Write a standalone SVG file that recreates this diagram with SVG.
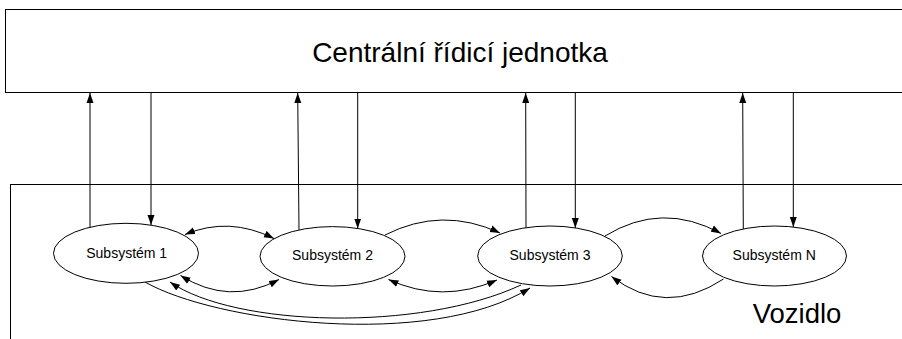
<svg xmlns="http://www.w3.org/2000/svg" width="902" height="339" viewBox="0 0 902 339">
  <style>
    .box { fill: #fff; stroke: #000; stroke-width: 1; }
    .node { fill: #fff; stroke: #000; stroke-width: 1; }
    .lbl { font-family: "Liberation Sans", Arial, sans-serif; font-size: 14px; fill: #000; text-anchor: middle; }
    .big { font-family: "Liberation Sans", Arial, sans-serif; fill: #000; }
    .edge { fill: none; stroke: #000; stroke-width: 1; }
    .one { marker-end: url(#arrow); }
    .two { marker-start: url(#arrow); marker-end: url(#arrow); }
  </style>
  <defs>
    <marker id="arrow" markerUnits="userSpaceOnUse" markerWidth="10" markerHeight="8" refX="10" refY="4" orient="auto-start-reverse" viewBox="0 0 10 8">
      <path d="M0,0.5 L10,4 L0,7.5 z" fill="#000"/>
    </marker>
  </defs>
  <rect width="902" height="339" fill="#fff"/>

  <!-- central control unit -->
  <g id="central-unit">
    <rect class="box" x="5.5" y="9.5" width="900" height="83"/>
    <text class="big" x="460" y="61.5" font-size="28" text-anchor="middle">Centrální řídicí jednotka</text>
  </g>

  <!-- vehicle frame -->
  <g id="vehicle">
    <rect class="box" x="10.5" y="184.5" width="900" height="200"/>
    <text class="big" x="797" y="323" font-size="27.5" text-anchor="middle">Vozidlo</text>
  </g>

  <!-- links -->
  <g id="connectors">
    <!-- up/down to the central unit -->
    <path class="edge one" d="M90,227 L90,93"/>
    <path class="edge one" d="M151,92.5 L151,225"/>
    <path class="edge one" d="M299,230 L297.7,93"/>
    <path class="edge one" d="M357.7,92.5 L357.7,228.5"/>
    <path class="edge one" d="M526,228 L525.7,93"/>
    <path class="edge one" d="M575.3,92.5 L575.3,228"/>
    <path class="edge one" d="M743.3,229 L742.7,93"/>
    <path class="edge one" d="M793.3,92.5 L793.3,227"/>

    <!-- between subsystems -->
    <path class="edge two" d="M185,234.5 Q229,216 274,238.5"/>
    <path class="edge two" d="M180.5,275.5 Q229,306 279,279.5"/>
    <path class="edge one" d="M385,235 Q442,206 500,233"/>
    <path class="edge two" d="M388.5,279.5 Q442,304 497,280"/>
    <path class="edge one" d="M605,236 Q662,201 721,233.5"/>
    <path class="edge one" d="M723.5,279 Q665,317.5 611.5,276.5"/>
    <path class="edge" d="M521,285 C420,332 235,327 170,282" marker-end="url(#arrow)"/>
    <path class="edge one" d="M145,282 C215,322 430,350 530,288"/>
  </g>

  <!-- subsystems -->
  <g id="subsystem-1">
    <ellipse class="node" cx="126" cy="253.3" rx="72.5" ry="30"/>
    <text class="lbl" x="126.7" y="257.5">Subsystém 1</text>
  </g>
  <g id="subsystem-2">
    <ellipse class="node" cx="332.5" cy="256.3" rx="72.5" ry="29.7"/>
    <text class="lbl" x="332.5" y="259.5">Subsystém 2</text>
  </g>
  <g id="subsystem-3">
    <ellipse class="node" cx="550" cy="256" rx="72.3" ry="30"/>
    <text class="lbl" x="550" y="260">Subsystém 3</text>
  </g>
  <g id="subsystem-n">
    <ellipse class="node" cx="774.5" cy="256" rx="72" ry="30"/>
    <text class="lbl" x="774.2" y="260">Subsystém N</text>
  </g>
</svg>
